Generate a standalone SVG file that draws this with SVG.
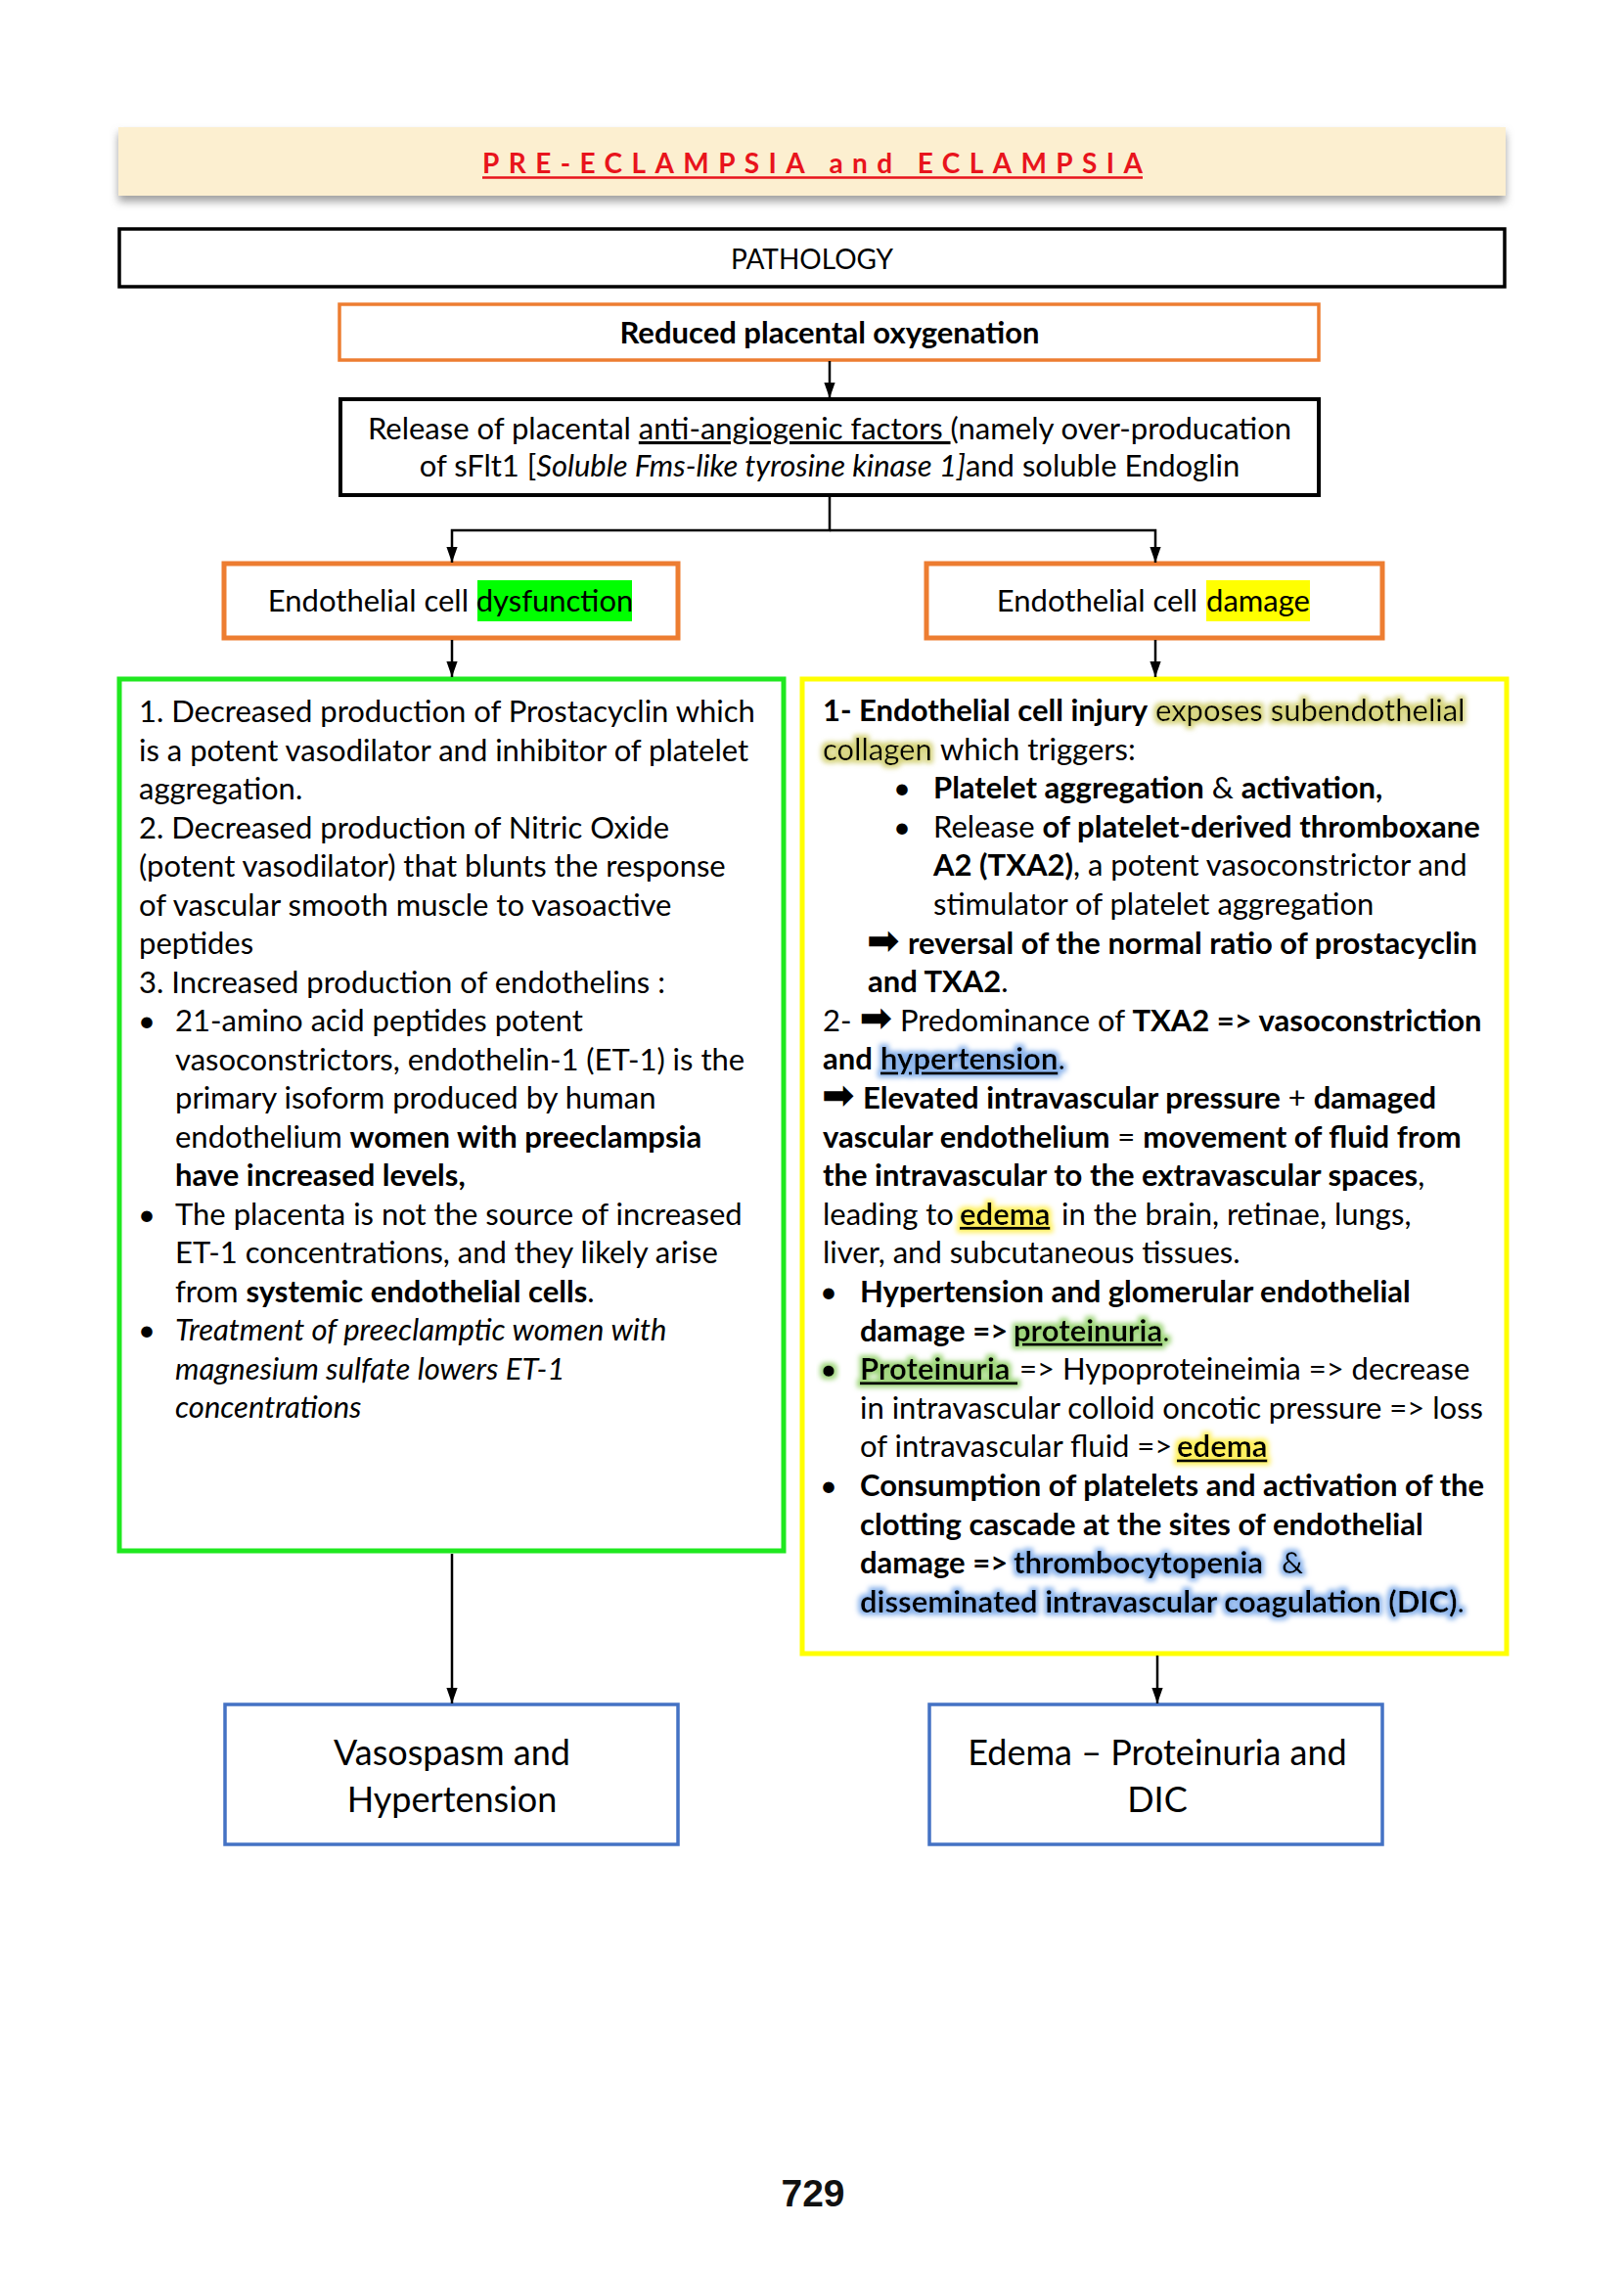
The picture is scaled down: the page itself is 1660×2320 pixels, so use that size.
<svg xmlns="http://www.w3.org/2000/svg" width="1660" height="2320" viewBox="0 0 1660 2320">
<style>
.t{font-family:Lato,'DejaVu Sans',sans-serif;font-size:31px;fill:#000}
.b{font-weight:700}
.i{font-style:italic}
.u{text-decoration:underline}
.ar{font-family:'DejaVu Sans',sans-serif;font-weight:700;font-size:40px}
.c{fill:none;stroke:#000;stroke-width:2.5}
</style>
<defs>
<filter id="shadow" x="-5%" y="-30%" width="110%" height="180%"><feDropShadow dx="0" dy="6" stdDeviation="4" flood-color="#777" flood-opacity="0.7"/></filter>
<filter id="gY" x="-20%" y="-50%" width="140%" height="200%"><feMorphology in="SourceAlpha" operator="dilate" radius="2.5" result="d"/><feGaussianBlur in="d" stdDeviation="2.5" result="bl"/><feFlood flood-color="#d6d47e"/><feComposite in2="bl" operator="in" result="g"/><feMerge><feMergeNode in="g"/><feMergeNode in="SourceGraphic"/></feMerge></filter>
<filter id="gB" x="-20%" y="-50%" width="140%" height="200%"><feMorphology in="SourceAlpha" operator="dilate" radius="2.5" result="d"/><feGaussianBlur in="d" stdDeviation="2.5" result="bl"/><feFlood flood-color="#8db5ec"/><feComposite in2="bl" operator="in" result="g"/><feMerge><feMergeNode in="g"/><feMergeNode in="SourceGraphic"/></feMerge></filter>
<filter id="gG" x="-20%" y="-50%" width="140%" height="200%"><feMorphology in="SourceAlpha" operator="dilate" radius="2.5" result="d"/><feGaussianBlur in="d" stdDeviation="2.5" result="bl"/><feFlood flood-color="#9fd67c"/><feComposite in2="bl" operator="in" result="g"/><feMerge><feMergeNode in="g"/><feMergeNode in="SourceGraphic"/></feMerge></filter>
<filter id="gE" x="-20%" y="-50%" width="140%" height="200%"><feMorphology in="SourceAlpha" operator="dilate" radius="2.5" result="d"/><feGaussianBlur in="d" stdDeviation="2.5" result="bl"/><feFlood flood-color="#fff05e"/><feComposite in2="bl" operator="in" result="g"/><feMerge><feMergeNode in="g"/><feMergeNode in="SourceGraphic"/></feMerge></filter>
<marker id="arr" viewBox="0 0 10 10" refX="10" refY="5" markerWidth="6.5" markerHeight="6.5" markerUnits="strokeWidth" orient="auto"><path d="M0,1.5 L10,5 L0,8.5 z" fill="#000"/></marker>
</defs>
<rect width="1660" height="2320" fill="#fff"/>

<g id="title">
<rect x="121" y="130" width="1418" height="70" fill="#fcefd0" filter="url(#shadow)"/>
<text x="493" y="177" textLength="675" lengthAdjust="spacing" style="font-family:Lato,'DejaVu Sans',sans-serif;font-size:28px;font-weight:700;fill:#e8141c">PRE-ECLAMPSIA and ECLAMPSIA</text>
<line x1="493" y1="181.5" x2="1168" y2="181.5" stroke="#e8141c" stroke-width="2.5"/>
</g>

<g id="pathology">
<rect x="122" y="234" width="1416" height="59" fill="#fff" stroke="#000" stroke-width="3.5"/>
<text class="t" x="830" y="275" text-anchor="middle" style="font-size:28px">PATHOLOGY</text>
</g>

<g id="reduced">
<rect x="347" y="311" width="1001" height="57" fill="#fff" stroke="#ed7d31" stroke-width="3.5"/>
<text class="t b" x="848" y="351" text-anchor="middle">Reduced placental oxygenation</text>
</g>

<g id="release">
<rect x="348" y="408" width="1000" height="98" fill="#fff" stroke="#000" stroke-width="4"/>
<text class="t" x="848" y="449" text-anchor="middle">Release of placental <tspan class="u">anti-angiogenic factors </tspan>(namely over-producation</text>
<text class="t" x="848" y="487" text-anchor="middle">of sFlt1 [<tspan class="i">Soluble Fms-like tyrosine kinase 1]</tspan>and soluble Endoglin</text>
</g>

<g id="dysfunction">
<rect x="229" y="576" width="464" height="76" fill="#fff" stroke="#ed7d31" stroke-width="5"/>
<rect x="488" y="593" width="158" height="42" fill="#00ff00"/>
<text class="t" x="479" y="625" text-anchor="end">Endothelial cell</text>
<text class="t" x="567" y="625" text-anchor="middle">dysfunction</text>
</g>

<g id="damage">
<rect x="947" y="576" width="466" height="76" fill="#fff" stroke="#ed7d31" stroke-width="5"/>
<rect x="1233" y="593" width="106" height="42" fill="#ffff00"/>
<text class="t" x="1224" y="625" text-anchor="end">Endothelial cell</text>
<text class="t" x="1286" y="625" text-anchor="middle">damage</text>
</g>

<g id="left-box">
<rect x="122" y="694" width="679" height="891" fill="#fff" stroke="#1fe81f" stroke-width="5"/>
<text class="t" x="142" y="738">1. Decreased production of Prostacyclin which</text>
<text class="t" x="142" y="777.5">is a potent vasodilator and inhibitor of platelet</text>
<text class="t" x="142" y="817">aggregation.</text>
<text class="t" x="142" y="856.5">2. Decreased production of Nitric Oxide</text>
<text class="t" x="142" y="896">(potent vasodilator) that blunts the response</text>
<text class="t" x="142" y="935.5">of vascular smooth muscle to vasoactive</text>
<text class="t" x="142" y="975">peptides</text>
<text class="t" x="142" y="1014.5">3. Increased production of endothelins :</text>
<text class="t" y="1054"><tspan x="141">•</tspan><tspan x="179">21-amino acid peptides potent</tspan></text>
<text class="t" x="179" y="1093.5">vasoconstrictors, endothelin-1 (ET-1) is the</text>
<text class="t" x="179" y="1133">primary isoform produced by human</text>
<text class="t" x="179" y="1172.5">endothelium <tspan class="b">women with preeclampsia</tspan></text>
<text class="t b" x="179" y="1212">have increased levels,</text>
<text class="t" y="1251.5"><tspan x="141">•</tspan><tspan x="179">The placenta is not the source of increased</tspan></text>
<text class="t" x="179" y="1291">ET-1 concentrations, and they likely arise</text>
<text class="t" x="179" y="1330.5">from <tspan class="b">systemic endothelial cells</tspan>.</text>
<text class="t" y="1370"><tspan x="141">•</tspan><tspan x="179" class="i">Treatment of preeclamptic women with</tspan></text>
<text class="t i" x="179" y="1409.5">magnesium sulfate lowers ET-1</text>
<text class="t i" x="179" y="1449">concentrations</text>
</g>

<g id="right-box">
<rect x="820" y="694" width="720" height="996" fill="#fff" stroke="#ffff00" stroke-width="5"/>
<text class="t b" x="841" y="737">1- Endothelial cell injury</text>
<text class="t" x="1181" y="737" fill="#262600" filter="url(#gY)">exposes subendothelial</text>
<text class="t" x="841" y="776.6" fill="#262600" filter="url(#gY)">collagen</text>
<text class="t" x="961" y="776.6">which triggers:</text>
<text class="t" y="816.2"><tspan x="913">•</tspan><tspan x="954" class="b">Platelet aggregation</tspan> &amp; <tspan class="b">activation,</tspan></text>
<text class="t" y="855.8"><tspan x="913">•</tspan><tspan x="954">Release </tspan><tspan class="b">of platelet-derived thromboxane</tspan></text>
<text class="t" x="954" y="895.4"><tspan class="b">A2 (TXA2)</tspan>, a potent vasoconstrictor and</text>
<text class="t" x="954" y="935">stimulator of platelet aggregation</text>
<text class="t" x="886" y="974.6"><tspan class="ar">➡</tspan><tspan class="b" x="928">reversal of the normal ratio of prostacyclin</tspan></text>
<text class="t" x="887" y="1014.2"><tspan class="b">and TXA2</tspan>.</text>
<text class="t" x="841" y="1053.8">2- <tspan class="ar">➡</tspan> Predominance of <tspan class="b">TXA2 =&gt; vasoconstriction</tspan></text>
<text class="t b" x="841" y="1093.4">and</text>
<text class="t" x="900" y="1093.4" filter="url(#gB)"><tspan class="b u">hypertension</tspan>.</text>
<text class="t" x="840" y="1133"><tspan class="ar">➡</tspan><tspan class="b" x="882">Elevated intravascular pressure</tspan> + <tspan class="b">damaged</tspan></text>
<text class="t" x="841" y="1172.6"><tspan class="b">vascular endothelium</tspan> = <tspan class="b">movement of fluid from</tspan></text>
<text class="t" x="841" y="1212.2"><tspan class="b">the intravascular to the extravascular spaces</tspan>,</text>
<text class="t" x="841" y="1251.8">leading to</text>
<text class="t b u" x="981" y="1251.8" filter="url(#gE)">edema</text>
<text class="t" x="1085" y="1251.8">in the brain, retinae, lungs,</text>
<text class="t" x="841" y="1291.4">liver, and subcutaneous tissues.</text>
<text class="t" y="1331"><tspan x="838">•</tspan><tspan x="879" class="b">Hypertension and glomerular endothelial</tspan></text>
<text class="t b" x="879" y="1370.6">damage =&gt;</text>
<text class="t" x="1036" y="1370.6" filter="url(#gG)"><tspan class="b u">proteinuria</tspan>.</text>
<text class="t" x="838" y="1410.2" filter="url(#gG)">•</text>
<text class="t b u" x="879" y="1410.2" filter="url(#gG)">Proteinuria&#160;</text>
<text class="t" x="1042" y="1410.2">=&gt; Hypoproteineimia =&gt; decrease</text>
<text class="t" x="879" y="1449.8">in intravascular colloid oncotic pressure =&gt; loss</text>
<text class="t" x="879" y="1489.4">of intravascular fluid =&gt;</text>
<text class="t b u" x="1203" y="1489.4" filter="url(#gE)">edema</text>
<text class="t" y="1529"><tspan x="838">•</tspan><tspan x="879" class="b">Consumption of platelets and activation of the</tspan></text>
<text class="t b" x="879" y="1568.6">clotting cascade at the sites of endothelial</text>
<text class="t b" x="879" y="1608.2">damage =&gt;</text>
<text class="t" x="1036" y="1608.2" filter="url(#gB)"><tspan class="b">thrombocytopenia</tspan><tspan x="1310">&amp;</tspan></text>
<text class="t" x="879" y="1647.8" filter="url(#gB)"><tspan class="b">disseminated intravascular coagulation (DIC)</tspan>.</text>
</g>

<g id="vasospasm">
<rect x="230" y="1742" width="463" height="143" fill="#fff" stroke="#4472c4" stroke-width="3.5"/>
<text class="t" x="462" y="1804" text-anchor="middle" style="font-size:36px">Vasospasm and</text>
<text class="t" x="462" y="1852" text-anchor="middle" style="font-size:36px">Hypertension</text>
</g>

<g id="edema">
<rect x="950" y="1742" width="463" height="143" fill="#fff" stroke="#4472c4" stroke-width="3.5"/>
<text class="t" x="1183" y="1804" text-anchor="middle" style="font-size:36px">Edema – Proteinuria and</text>
<text class="t" x="1183" y="1852" text-anchor="middle" style="font-size:36px">DIC</text>
</g>

<g id="connectors">
<line class="c" x1="848" y1="369" x2="848" y2="407" marker-end="url(#arr)"/>
<polyline class="c" points="848,506 848,542 462,542 462,575" marker-end="url(#arr)"/>
<polyline class="c" points="848,542 1181,542 1181,575" marker-end="url(#arr)"/>
<line class="c" x1="462" y1="654" x2="462" y2="692" marker-end="url(#arr)"/>
<line class="c" x1="1181" y1="654" x2="1181" y2="692" marker-end="url(#arr)"/>
<line class="c" x1="462" y1="1588" x2="462" y2="1741" marker-end="url(#arr)"/>
<line class="c" x1="1183" y1="1692" x2="1183" y2="1741" marker-end="url(#arr)"/>
</g>

<g id="page-number">
<text x="831" y="2255" text-anchor="middle" style="font-family:'Liberation Sans',Arial,sans-serif;font-size:39px;font-weight:700;fill:#111">729</text>
</g>
</svg>
